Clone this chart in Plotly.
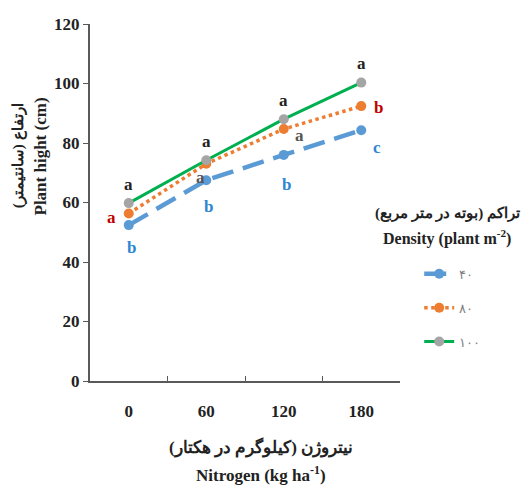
import plotly.graph_objects as go

nitrogen = ["0", "60", "120", "180"]
d40 = [52.4, 67.5, 76.0, 84.3]
d80 = [56.3, 73.0, 84.7, 92.4]
d100 = [59.8, 74.2, 88.0, 100.3]
letters40 = ["b", "b", "b", "c"]
letters80 = ["a", "a", "a", "b"]
letters100 = ["a", "a", "a", "a"]
names = ["۴۰", "۸۰", "۱۰۰"]
yticks = [0, 20, 40, 60, 80, 100, 120]

FONT = "Liberation Serif"
BLUE = "#5B9BD5"
ORANGE = "#ED7D31"
GRAY = "#A5A5A5"
GREEN = "#00B050"
INK = "#222222"

fig = go.Figure()
fig.add_trace(go.Scatter(x=nitrogen, y=d40, name=names[0], mode="lines+markers",
                         line=dict(color=BLUE, width=4.5, dash="22px,10px"),
                         marker=dict(color=BLUE, size=10), legendgroup="a"))
fig.add_trace(go.Scatter(x=nitrogen, y=d80, name=names[1], mode="lines+markers",
                         line=dict(color=ORANGE, width=3.5, dash="dot"),
                         marker=dict(color=ORANGE, size=10), legendgroup="b"))
fig.add_trace(go.Scatter(x=nitrogen, y=d100, name=names[2], mode="lines+markers",
                         line=dict(color=GREEN, width=3),
                         marker=dict(color=GRAY, size=10), legendgroup="c"))

lf = dict(family=FONT, size=17, weight="bold")
for i, (yi, t) in enumerate(zip(d100, letters100)):
    fig.add_annotation(x=i, y=yi, text=t, showarrow=False,
                       yshift=19, font=dict(lf, color=INK))
o_shifts = [(-17, -4, "#C00000"), (-6, -14, "#555555"), (16, -6, "#555555"), (17, -1, "#C00000")]
for i, ((yi, t), (xs, ys, c)) in enumerate(zip(zip(d80, letters80), o_shifts)):
    fig.add_annotation(x=i, y=yi, text=t, showarrow=False,
                       xshift=xs, yshift=ys, font=dict(lf, color=c))
b_shifts = [(3, -22), (2, -26), (3, -30), (16, -17)]
for i, ((yi, t), (xs, ys)) in enumerate(zip(zip(d40, letters40), b_shifts)):
    fig.add_annotation(x=i, y=yi, text=t, showarrow=False,
                       xshift=xs, yshift=ys, font=dict(lf, color="#2E86D1"))

tt = dict(family=FONT, size=17, color=INK, weight="bold")
cen = dict(xref="paper", yref="paper", showarrow=False, xanchor="center", yanchor="middle")
fig.add_annotation(cen, x=0.55, y=-0.185, text="نیتروژن (کیلوگرم در هکتار)", font=tt)
fig.add_annotation(cen, x=0.55, y=-0.26, text="Nitrogen (kg ha<sup>-1</sup>)", font=tt)
fig.add_annotation(cen, x=-0.232, y=0.63, text="ارتفاع (سانتیمتر)", textangle=-90,
                   font=dict(tt, size=15))
fig.add_annotation(cen, x=-0.16, y=0.63, text="Plant hight (cm)", textangle=-90, font=tt)
fig.add_annotation(cen, x=1.152, y=0.47, text="تراکم (بوته در متر مربع)", font=dict(tt, size=15))
fig.add_annotation(cen, x=1.152, y=0.403, text="Density (plant m<sup>-2</sup>)", font=dict(tt, size=16))

tf = dict(family=FONT, size=17, color=INK, weight="bold")
fig.update_layout(
    width=524, height=493,
    margin=dict(l=90, r=124, t=24, b=112, autoexpand=False),
    plot_bgcolor="white", paper_bgcolor="white",
    font=dict(family=FONT, size=16, color=INK),
    xaxis=dict(type="category", categoryorder="array", categoryarray=nitrogen,
               range=[-0.5, 3.5], showline=True, linecolor="#595959", linewidth=2,
               ticks="inside", tickson="boundaries", ticklen=5, tickcolor="#595959",
               showgrid=False, tickfont=tf, ticklabelstandoff=14),
    yaxis=dict(range=[0, 120], tickvals=yticks, showline=True, linecolor="#595959", linewidth=2,
               ticks="outside", ticklen=5, tickcolor="#595959", showgrid=False, zeroline=False,
               tickfont=tf),
    legend=dict(xref="container", yref="container", x=0.8, y=0.475,
                xanchor="left", yanchor="top",
                font=dict(family=FONT, size=13, color="#7f7f7f"),
                traceorder="grouped", tracegroupgap=14, bgcolor="rgba(0,0,0,0)"),
)

fig.write_html("out.html")
